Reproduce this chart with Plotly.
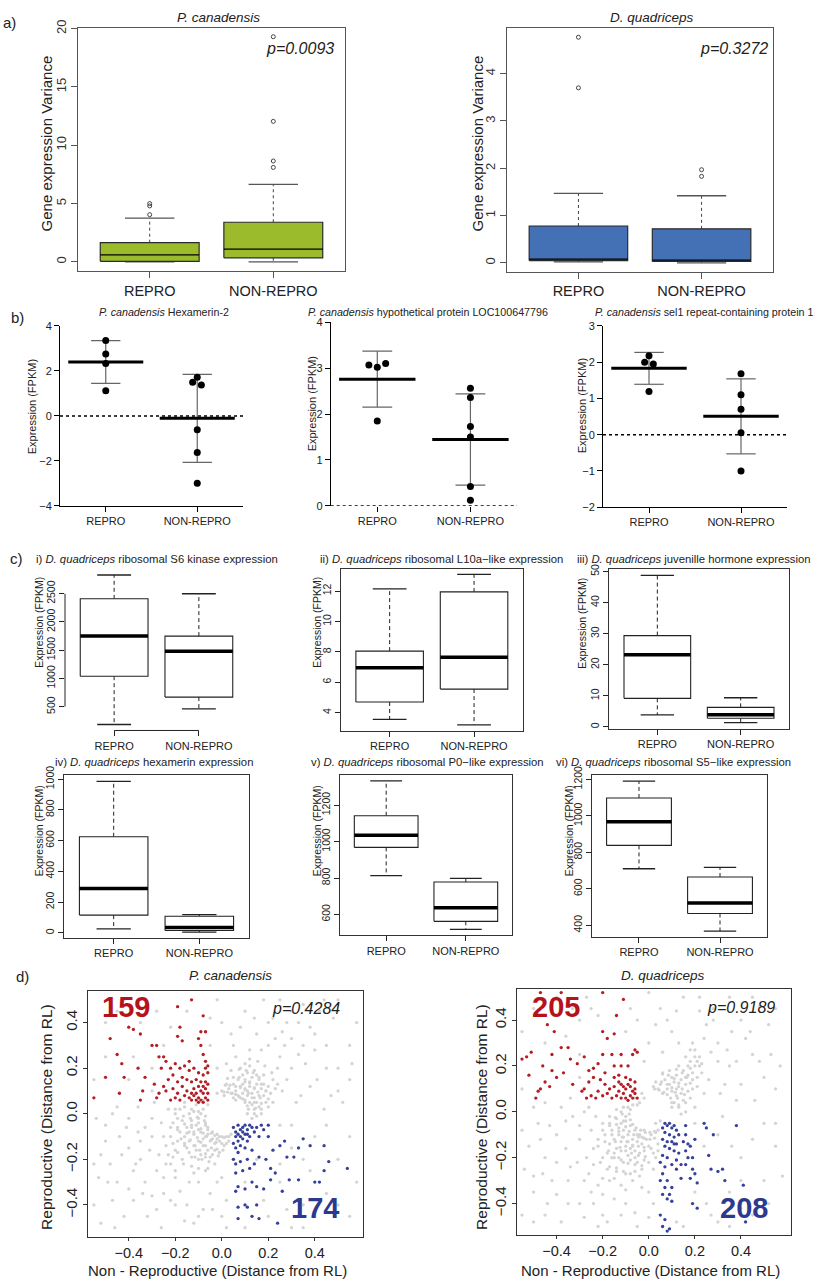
import plotly.graph_objects as go

W, H = 828, 1285
FONT = "Liberation Sans, Arial, sans-serif"

GROUPS = ["REPRO", "NON-REPRO"]

# ---------------- panel a : variance boxplots (lo whisker, Q1, median, Q3, hi whisker)
A_TITLES = ["<i>P. canadensis</i>", "<i>D. quadriceps</i>"]
A_PVALS = ["<i>p=0.0093</i>", "<i>p=0.3272</i>"]
A_PC_STATS = [[0.0, 0.05, 0.6, 1.65, 3.75], [0.0, 0.35, 1.1, 3.4, 6.65]]
A_PC_OUT = [[4.05, 4.8, 5.0], [8.1, 8.65, 12.05, 19.3]]
A_DQ_STATS = [[0.02, 0.05, 0.08, 0.78, 1.47], [0.0, 0.03, 0.06, 0.72, 1.42]]
A_DQ_OUT = [[3.7, 4.77], [1.83, 1.97]]
A_PC_TICKS = [0, 5, 10, 15, 20]
A_DQ_TICKS = [0, 1, 2, 3, 4]

# ---------------- panel b : dot plots with mean +/- SD
B_TITLES = ["<i>P. canadensis</i> Hexamerin-2",
            "<i>P. canadensis</i> hypothetical protein LOC100647796",
            "<i>P. canadensis</i> sel1 repeat-containing protein 1"]
B_REPRO_PTS = [[3.35, 2.75, 2.33, 1.12], [3.07, 3.02, 3.1, 1.85], [2.18, 2.0, 1.95, 1.19]]
B_REPRO_JIT = [[0, 0, 0, 0], [-0.09, 0, 0.09, 0], [0, -0.047, 0.047, 0]]
B_NON_PTS = [[1.72, 1.5, 1.37, -0.62, -1.63, -3.0], [2.56, 2.36, 1.73, 1.5, 0.42, 0.12],
             [1.68, 1.1, 0.7, 0.05, -1.0]]
B_NON_JIT = [[0, -0.05, 0.045, 0, 0, 0], [0, 0, 0, 0, 0, 0], [0, 0, 0, 0, 0]]
B_MEAN = [[2.4, -0.11], [2.76, 1.445], [1.83, 0.505]]
B_SD = [[0.95, 1.96], [0.61, 0.995], [0.44, 1.035]]
B_YRANGE = [[-4, 4], [0, 4], [-2, 3]]
B_TICKS = [[-4, -2, 0, 2, 4], [0, 1, 2, 3, 4], [-2, -1, 0, 1, 2, 3]]

# ---------------- panel c : expression boxplots
C_TITLES = ["i) <i>D. quadriceps</i> ribosomal S6 kinase expression",
            "ii) <i>D. quadriceps</i> ribosomal L10a\u2212like expression",
            "iii) <i>D. quadriceps</i> juvenille hormone expression",
            "iv) <i>D. quadriceps</i> hexamerin expression",
            "v) <i>D. quadriceps</i> ribosomal P0\u2212like expression",
            "vi) <i>D. quadriceps</i> ribosomal S5\u2212like expression"]
C_STATS = [
    [[185, 1040, 1750, 2410, 2832], [460, 670, 1480, 1750, 2500]],
    [[3.55, 4.7, 6.95, 8.05, 12.15], [3.2, 5.55, 7.65, 11.95, 13.1]],
    [[3.9, 9.2, 23.2, 29.4, 48.8], [1.4, 2.8, 3.9, 6.3, 9.4]],
    [[25, 115, 288, 625, 985], [5, 15, 35, 108, 118]],
    [[813, 968, 1035, 1142, 1333], [518, 562, 637, 778, 798]],
    [[710, 838, 968, 1098, 1190], [368, 465, 523, 665, 718]],
]
C_TICKS = [[500, 1000, 1500, 2000, 2500], [4, 6, 8, 10, 12], [0, 10, 20, 30, 40, 50],
           [0, 200, 400, 600, 800, 1000], [600, 800, 1000, 1200], [400, 600, 800, 1000, 1200]]
C_YRANGE = [[79, 2938], [2.78, 13.43], [-0.5, 50.7], [-34, 1027], [485, 1366], [336, 1224]]

# ---------------- panel d : distance scatter
D_TITLES = ["<i>P. canadensis</i>", "<i>D. quadriceps</i>"]
D_PVALS = ["<i>p=0.4284</i>", "<i>p=0.9189</i>"]
D_COUNTS = [["159", "174"], ["205", "208"]]
D_TICKS = [-0.4, -0.2, 0.0, 0.2, 0.4]

PC_GREY = [
    (0.05, 0.07), (0.07, 0.08), (0.09, 0.09), (0.11, 0.1), (0.08, 0.12), (0.1, 0.14), (0.12, 0.12), (0.13, 0.09),
    (0.14, 0.07), (0.15, 0.05), (0.12, 0.05), (0.16, 0.03), (0.14, 0.02), (0.06, 0.1), (0.04, 0.09), (0.03, 0.11),
    (0.07, 0.15), (0.09, 0.17), (0.11, 0.18), (0.13, 0.16), (0.15, 0.13), (0.17, 0.11), (0.18, 0.08), (0.19, 0.05),
    (0.16, 0.15), (0.2, 0.12), (0.12, 0.21), (0.08, 0.2), (0.14, 0.19), (0.18, 0.17), (0.22, 0.15), (0.21, 0.09),
    (0.17, 0.0), (0.15, -0.01), (0.13, -0.02), (0.01, 0.08), (0.0, 0.1), (-0.02, 0.09), (0.02, 0.13), (0.05, 0.13),
    (0.1, 0.06), (0.13, 0.04), (0.06, 0.06), (0.08, 0.07), (0.1, 0.11), (0.12, 0.14), (0.14, 0.11), (0.16, 0.08),
    (0.11, 0.08), (0.09, 0.13), (0.17, 0.13), (0.19, 0.1), (0.15, 0.17), (0.1, 0.22), (0.24, 0.2), (0.23, 0.11),
    (0.11, 0.0), (0.115, 0.02), (0.11, 0.035), (0.1, 0.05), (0.09, 0.065), (0.075, 0.075), (0.06, 0.085),
    (0.045, 0.09), (0.025, 0.095), (0.01, 0.095), (0.14, 0.0), (0.145, 0.025), (0.14, 0.05), (0.13, 0.07),
    (0.115, 0.09), (0.1, 0.105), (0.08, 0.115), (0.06, 0.12), (0.035, 0.125), (0.015, 0.125), (0.17, 0.02),
    (0.17, 0.045), (0.165, 0.07), (0.155, 0.095), (0.14, 0.115), (0.12, 0.135), (0.1, 0.15), (0.075, 0.16),
    (0.05, 0.16), (0.025, 0.155), (0.2, 0.03), (0.2, 0.065), (0.19, 0.1), (0.18, 0.13), (0.16, 0.16),
    (0.135, 0.18), (0.105, 0.19), (0.075, 0.195), (0.04, 0.19), (0.22, 0.05), (0.215, 0.18), (0.185, 0.21),
    (0.24, 0.13), (0.155, 0.23), (0.12, 0.24),
    (-0.06, 0.04), (-0.08, 0.02), (-0.09, 0.0), (-0.1, -0.02), (-0.07, -0.04), (-0.06, -0.06), (-0.04, -0.08),
    (-0.02, -0.09), (0.0, -0.1), (0.02, -0.1), (0.04, -0.09), (-0.11, -0.05), (-0.13, -0.03), (-0.12, 0.01),
    (-0.14, 0.0), (-0.15, -0.06), (-0.09, -0.08), (-0.07, -0.1), (-0.05, -0.12), (-0.03, -0.13), (-0.01, -0.12),
    (-0.12, -0.09), (-0.1, -0.12), (-0.08, -0.14), (-0.06, -0.16), (-0.14, -0.12), (-0.16, -0.1), (-0.18, -0.08),
    (-0.17, -0.03), (-0.19, -0.12), (-0.11, -0.16), (-0.09, -0.18), (-0.15, -0.15), (-0.13, -0.19), (-0.2, -0.16),
    (-0.17, -0.2), (-0.22, -0.1), (-0.21, -0.04), (-0.24, -0.14), (-0.05, -0.19), (-0.03, -0.16), (0.01, -0.14),
    (-0.18, 0.02), (-0.2, 0.0), (-0.11, 0.04), (-0.16, 0.05), (-0.23, 0.02), (-0.08, 0.06), (-0.1, -0.07),
    (-0.08, -0.11), (-0.12, -0.14), (-0.04, -0.11), (-0.02, -0.11), (-0.07, -0.19), (-0.14, -0.08), (-0.16, -0.13),
    (-0.1, -0.2), (-0.13, -0.06), (-0.06, -0.09), (0.03, -0.12), (-0.01, -0.17), (-0.19, -0.06), (-0.21, -0.19),
    (-0.07, -0.01), (-0.075, -0.03), (-0.07, -0.05), (-0.06, -0.07), (-0.045, -0.085), (-0.03, -0.095),
    (-0.01, -0.1), (0.01, -0.105), (0.03, -0.1), (-0.1, 0.01), (-0.105, -0.015), (-0.1, -0.04), (-0.09, -0.065),
    (-0.08, -0.085), (-0.065, -0.1), (-0.045, -0.115), (-0.025, -0.125), (0.0, -0.13), (0.02, -0.13),
    (-0.13, 0.02), (-0.135, -0.02), (-0.13, -0.05), (-0.12, -0.08), (-0.105, -0.105), (-0.09, -0.125),
    (-0.07, -0.14), (-0.045, -0.15), (-0.02, -0.155), (0.005, -0.16), (-0.16, 0.03), (-0.165, -0.01),
    (-0.16, -0.045), (-0.15, -0.085), (-0.135, -0.115), (-0.115, -0.14), (-0.095, -0.16), (-0.07, -0.175),
    (-0.04, -0.18), (-0.015, -0.185), (-0.19, -0.02), (-0.19, -0.07), (-0.175, -0.11), (-0.16, -0.14),
    (-0.14, -0.17), (-0.115, -0.19), (-0.085, -0.2), (-0.055, -0.21), (-0.03, -0.22), (-0.22, -0.06),
    (-0.21, -0.13), (-0.19, -0.17), (-0.165, -0.22), (-0.13, -0.23), (-0.1, -0.24), (-0.06, -0.24),
    (-0.25, -0.1), (-0.23, -0.18), (-0.2, -0.25),
    (-0.3, -0.1), (-0.35, -0.2), (-0.28, -0.25), (-0.4, -0.15), (-0.45, -0.3), (-0.5, -0.05), (-0.38, -0.38),
    (-0.25, -0.35), (-0.2, -0.28), (-0.32, -0.45), (-0.15, -0.4), (-0.1, -0.3), (-0.05, -0.35), (-0.12, -0.48),
    (-0.42, -0.45), (-0.48, -0.22), (-0.55, -0.4), (-0.3, -0.02), (-0.27, -0.18), (-0.22, -0.22), (-0.36, -0.08),
    (-0.44, -0.1), (-0.52, -0.18), (-0.26, -0.5), (-0.08, -0.42), (0.0, -0.28), (0.02, -0.5), (-0.18, -0.34),
    (-0.33, -0.3), (-0.4, -0.02), (-0.29, 0.05), (-0.45, 0.03), (-0.25, -0.28), (-0.35, -0.12), (-0.47, -0.38),
    (-0.3, -0.36), (-0.12, -0.26), (-0.2, -0.4), (-0.53, -0.28), (-0.38, -0.25),
    (-0.52, -0.48), (-0.46, -0.5), (-0.4, -0.33), (-0.34, -0.35), (-0.28, -0.42), (-0.22, -0.38), (-0.16, -0.47),
    (-0.1, -0.45), (-0.04, -0.42), (0.0, -0.45), (-0.02, -0.3), (-0.07, -0.25), (-0.14, -0.3), (-0.24, -0.22),
    (-0.31, -0.16), (-0.37, -0.22), (-0.43, -0.18), (-0.5, -0.12), (-0.55, -0.22), (-0.49, -0.3), (-0.41, -0.06),
    (-0.33, -0.06), (-0.26, -0.04), (-0.54, -0.02), (-0.47, 0.0), (-0.36, 0.03),
    (0.25, 0.25), (0.3, 0.2), (0.35, 0.3), (0.4, 0.35), (0.2, 0.3), (0.28, 0.4), (0.45, 0.2), (0.5, 0.1),
    (0.38, 0.12), (0.22, 0.42), (0.15, 0.35), (0.1, 0.45), (0.05, 0.3), (0.32, 0.05), (0.42, 0.45), (0.55, 0.3),
    (0.26, 0.1), (0.48, 0.42), (0.12, 0.28), (0.35, 0.48), (0.0, 0.4), (0.02, 0.22), (0.18, 0.5), (0.3, 0.33),
    (0.52, 0.05), (0.44, 0.02), (0.27, 0.3), (0.36, 0.22), (0.4, 0.28),
    (0.3, 0.45), (0.38, 0.38), (0.45, 0.3), (0.5, 0.2), (0.55, 0.15), (0.33, 0.26), (0.26, 0.36), (0.2, 0.4),
    (0.14, 0.42), (0.08, 0.38), (0.04, 0.35), (0.06, 0.25), (0.17, 0.28), (0.23, 0.33), (0.28, 0.15),
    (0.34, 0.08), (0.41, 0.15), (0.47, 0.08), (0.56, 0.22), (0.58, 0.4), (0.5, 0.5), (0.44, 0.5), (0.25, 0.5),
    (0.33, 0.4),
    (-0.3, 0.1), (-0.45, 0.45), (-0.25, 0.3), (-0.15, 0.45), (-0.05, 0.3), (-0.35, 0.4), (-0.5, 0.25),
    (-0.02, 0.5), (-0.2, 0.02), (-0.4, 0.15), (-0.3, 0.2), (-0.38, 0.25), (-0.5, 0.4), (-0.42, 0.5),
    (-0.28, 0.45), (-0.22, 0.38), (-0.05, 0.42), (-0.02, 0.2), (-0.32, 0.48), (-0.55, 0.15),
    (0.25, -0.05), (0.3, -0.15), (0.4, -0.1), (0.5, -0.2), (0.35, -0.4), (0.2, -0.45), (0.45, -0.35), (0.1, -0.3),
    (0.55, -0.45), (0.3, -0.5), (0.15, -0.2), (0.05, -0.2), (0.25, -0.3), (0.3, -0.05), (0.35, -0.2),
    (0.45, -0.05), (0.55, -0.1), (0.5, -0.4), (0.4, -0.45), (0.35, -0.5), (0.28, -0.42), (0.18, -0.38),
    (0.1, -0.5), (0.02, -0.38), (0.25, -0.22), (0.38, -0.25), (0.58, -0.3),
]
PC_RED = [
    (-0.06, 0.06), (-0.07, 0.07), (-0.08, 0.05), (-0.09, 0.06), (-0.1, 0.07), (-0.11, 0.06), (-0.12, 0.08),
    (-0.06, 0.09), (-0.07, 0.11), (-0.08, 0.09), (-0.09, 0.1), (-0.1, 0.12), (-0.12, 0.11), (-0.13, 0.09),
    (-0.14, 0.07), (-0.15, 0.1), (-0.16, 0.08), (-0.17, 0.12), (-0.18, 0.06), (-0.19, 0.09), (-0.2, 0.07),
    (-0.21, 0.11), (-0.22, 0.06), (-0.24, 0.1), (-0.13, 0.14), (-0.11, 0.15), (-0.09, 0.14), (-0.07, 0.14),
    (-0.06, 0.13), (-0.15, 0.15), (-0.17, 0.16), (-0.19, 0.14), (-0.21, 0.17), (-0.23, 0.15), (-0.25, 0.12),
    (-0.27, 0.09), (-0.28, 0.07), (-0.08, 0.17), (-0.06, 0.18), (-0.07, 0.2), (-0.1, 0.18), (-0.12, 0.2),
    (-0.14, 0.19), (-0.16, 0.21), (-0.18, 0.2), (-0.2, 0.22), (-0.22, 0.2), (-0.24, 0.23), (-0.26, 0.2),
    (-0.25, 0.25), (-0.27, 0.25), (-0.06, 0.21), (-0.07, 0.23), (-0.08, 0.26), (-0.14, 0.23),
    (-0.3, 0.3), (-0.35, 0.35), (-0.38, 0.37), (-0.4, 0.38), (-0.48, 0.33), (-0.5, 0.16), (-0.45, 0.26),
    (-0.43, 0.22), (-0.42, 0.16), (-0.44, 0.09), (-0.36, 0.2), (-0.34, 0.1), (-0.35, 0.06), (-0.33, 0.16),
    (-0.29, 0.13), (-0.19, 0.34), (-0.18, 0.38), (-0.17, 0.32), (-0.09, 0.3), (-0.1, 0.33), (-0.07, 0.36),
    (-0.09, 0.36), (-0.08, 0.43), (-0.19, 0.47), (-0.13, 0.5), (-0.55, 0.07), (-0.28, 0.3), (-0.11, 0.09),
    (-0.13, 0.06), (-0.1, 0.05), (-0.08, 0.12),
]
PC_BLUE = [
    (0.05, -0.06), (0.06, -0.08), (0.07, -0.05), (0.08, -0.07), (0.09, -0.06), (0.1, -0.05), (0.11, -0.07),
    (0.12, -0.05), (0.13, -0.06), (0.06, -0.1), (0.07, -0.12), (0.08, -0.1), (0.09, -0.11), (0.1, -0.09),
    (0.11, -0.12), (0.12, -0.1), (0.05, -0.13), (0.06, -0.15), (0.07, -0.17), (0.08, -0.14), (0.1, -0.15),
    (0.14, -0.08), (0.15, -0.06), (0.17, -0.05), (0.18, -0.07), (0.2, -0.05), (0.2, -0.1), (0.16, -0.1),
    (0.05, -0.2), (0.06, -0.22), (0.08, -0.21), (0.11, -0.2), (0.12, -0.24), (0.06, -0.26), (0.09, -0.25),
    (0.14, -0.22), (0.16, -0.19), (0.19, -0.2), (0.21, -0.24), (0.23, -0.26), (0.22, -0.16), (0.25, -0.14),
    (0.28, -0.19), (0.31, -0.19), (0.33, -0.15), (0.35, -0.11), (0.38, -0.14), (0.4, -0.3), (0.42, -0.3),
    (0.44, -0.14), (0.44, -0.25), (0.46, -0.21), (0.29, -0.29), (0.33, -0.29), (0.26, -0.34), (0.21, -0.29),
    (0.13, -0.3), (0.15, -0.32), (0.18, -0.33), (0.06, -0.34), (0.07, -0.32), (0.1, -0.33), (0.07, -0.41),
    (0.1, -0.4), (0.11, -0.41), (0.13, -0.45), (0.16, -0.46), (0.15, -0.4), (0.07, -0.46), (0.24, -0.48),
    (0.54, -0.24), (0.27, -0.12), (0.13, -0.16), (0.09, -0.08), (0.07, -0.09), (0.11, -0.09),
]
DQ_GREY = [
    (-0.02, -0.08), (-0.04, -0.1), (-0.06, -0.08), (-0.08, -0.06), (-0.1, -0.04), (-0.1, -0.02), (-0.12, -0.05),
    (-0.11, -0.08), (-0.09, -0.1), (-0.07, -0.12), (-0.05, -0.13), (-0.03, -0.14), (-0.01, -0.12), (0.01, -0.1),
    (0.03, -0.09), (-0.13, -0.1), (-0.12, -0.13), (-0.1, -0.15), (-0.08, -0.16), (-0.06, -0.17), (-0.04, -0.18),
    (-0.02, -0.17), (0.0, -0.15), (-0.14, -0.16), (-0.15, -0.12), (-0.16, -0.08), (-0.14, -0.03), (-0.12, 0.0),
    (-0.09, 0.02), (-0.07, 0.03), (-0.17, -0.14), (-0.18, -0.18), (-0.16, -0.2), (-0.13, -0.2), (-0.11, -0.22),
    (-0.08, -0.21), (-0.05, -0.22), (-0.02, -0.21), (0.02, -0.18), (0.04, -0.14), (-0.19, -0.1), (-0.2, -0.05),
    (-0.22, -0.12), (-0.21, -0.22), (-0.18, -0.25), (-0.14, -0.26), (-0.1, -0.27), (-0.06, -0.26),
    (-0.03, -0.25), (0.0, -0.22), (0.03, -0.05), (0.05, -0.04), (-0.04, 0.04), (-0.02, 0.06), (-0.24, -0.16),
    (-0.25, -0.08), (-0.23, -0.02), (-0.27, -0.2), (-0.26, -0.27), (-0.3, -0.12), (-0.07, -0.3), (-0.12, -0.32),
    (-0.17, -0.3), (-0.09, -0.13), (-0.07, -0.15), (-0.11, -0.11), (-0.13, -0.07), (-0.05, -0.1),
    (-0.03, -0.11), (-0.15, -0.18), (-0.09, -0.19), (-0.12, -0.17), (-0.06, -0.2), (-0.17, -0.05),
    (-0.08, 0.01), (-0.085, -0.01), (-0.08, -0.035), (-0.07, -0.055), (-0.055, -0.07), (-0.035, -0.08),
    (-0.015, -0.09), (0.005, -0.09), (0.025, -0.085), (0.04, -0.08), (-0.11, 0.02), (-0.115, -0.01),
    (-0.11, -0.04), (-0.1, -0.065), (-0.085, -0.085), (-0.065, -0.1), (-0.045, -0.11), (-0.02, -0.115),
    (0.005, -0.12), (0.025, -0.115), (-0.14, 0.01), (-0.145, -0.025), (-0.14, -0.055), (-0.13, -0.085),
    (-0.115, -0.11), (-0.095, -0.13), (-0.07, -0.145), (-0.045, -0.15), (-0.02, -0.155), (0.01, -0.16),
    (-0.17, -0.02), (-0.17, -0.06), (-0.16, -0.1), (-0.145, -0.13), (-0.125, -0.155), (-0.1, -0.17),
    (-0.075, -0.18), (-0.045, -0.19), (-0.015, -0.195), (-0.2, -0.08), (-0.19, -0.13), (-0.175, -0.17),
    (-0.15, -0.2), (-0.12, -0.21), (-0.09, -0.225), (-0.06, -0.23), (-0.03, -0.235), (-0.22, -0.15),
    (-0.2, -0.2), (-0.17, -0.24), (-0.14, -0.245), (-0.11, -0.26), (-0.08, -0.27), (-0.04, -0.28),
    (-0.24, -0.23), (-0.2, -0.29), (-0.15, -0.29), (0.02, -0.25), (0.03, -0.2), (0.04, -0.17), (-0.06, 0.06),
    (-0.05, 0.03), (-0.03, 0.08),
    (0.06, 0.08), (0.08, 0.1), (0.1, 0.09), (0.12, 0.07), (0.11, 0.04), (0.09, 0.12), (0.11, 0.13),
    (0.13, 0.11), (0.14, 0.08), (0.15, 0.05), (0.13, 0.02), (0.1, 0.15), (0.12, 0.16), (0.14, 0.14),
    (0.16, 0.12), (0.17, 0.09), (0.18, 0.06), (0.15, 0.18), (0.17, 0.16), (0.19, 0.14), (0.2, 0.2),
    (0.18, 0.22), (0.22, 0.24), (0.2, 0.27), (0.19, 0.3), (0.16, 0.24), (0.21, 0.11), (0.23, 0.17),
    (0.07, 0.14), (0.05, 0.12), (0.04, 0.1), (0.02, 0.11), (0.09, 0.18), (0.06, 0.17), (0.13, 0.2),
    (0.24, 0.08), (0.2, 0.02), (0.16, 0.0), (0.14, -0.01), (0.12, 0.1), (0.16, 0.15), (0.18, 0.19),
    (0.1, 0.02), (0.1, 0.04), (0.095, 0.06), (0.08, 0.075), (0.065, 0.085), (0.045, 0.095), (0.025, 0.1),
    (0.13, 0.03), (0.125, 0.06), (0.115, 0.085), (0.1, 0.105), (0.08, 0.12), (0.055, 0.13), (0.03, 0.13),
    (0.16, 0.04), (0.155, 0.075), (0.145, 0.1), (0.13, 0.125), (0.11, 0.145), (0.085, 0.16), (0.06, 0.165),
    (0.19, 0.1), (0.18, 0.125), (0.165, 0.15), (0.145, 0.17), (0.12, 0.185), (0.19, 0.17), (0.21, 0.15),
    (0.21, 0.22), (0.23, 0.21), (0.2, 0.24), (0.18, 0.27), (0.17, 0.2), (0.22, 0.2),
    (0.3, 0.3), (0.35, 0.2), (0.4, 0.4), (0.45, 0.25), (0.5, 0.15), (0.55, 0.1), (0.28, 0.45), (0.1, 0.35),
    (0.05, 0.45), (0.38, 0.05), (0.48, 0.46), (0.25, 0.38), (0.33, 0.12), (0.42, 0.32), (0.52, 0.38),
    (0.15, 0.5), (0.0, 0.3), (0.3, 0.22),
    (0.28, 0.4), (0.36, 0.35), (0.44, 0.35), (0.48, 0.22), (0.53, 0.25), (0.34, 0.27), (0.24, 0.32),
    (0.22, 0.44), (0.12, 0.44), (0.08, 0.4), (0.03, 0.38), (0.06, 0.26), (0.13, 0.3), (0.27, 0.26),
    (0.26, 0.14), (0.31, 0.08), (0.4, 0.12), (0.46, 0.05), (0.57, 0.2), (0.55, 0.45), (0.45, 0.5),
    (0.35, 0.5), (0.22, 0.5), (0.38, 0.22),
    (-0.35, -0.3), (-0.4, -0.1), (-0.45, -0.2), (-0.5, -0.35), (-0.55, -0.45), (-0.3, -0.4), (-0.2, -0.45),
    (-0.1, -0.4), (-0.05, -0.5), (-0.38, -0.48), (-0.48, -0.05), (-0.52, -0.15), (-0.33, -0.02),
    (-0.42, -0.3), (-0.25, -0.35), (-0.15, -0.38), (0.0, -0.35), (-0.28, 0.0), (-0.38, 0.02), (-0.5, 0.02),
    (-0.44, -0.4), (-0.22, -0.5), (-0.36, -0.16), (-0.46, -0.27), (-0.31, -0.22), (-0.2, -0.36),
    (-0.5, -0.48), (-0.45, -0.45), (-0.4, -0.36), (-0.35, -0.4), (-0.28, -0.46), (-0.24, -0.4),
    (-0.18, -0.48), (-0.12, -0.45), (-0.06, -0.44), (0.0, -0.46), (-0.03, -0.33), (-0.1, -0.34),
    (-0.22, -0.32), (-0.28, -0.3), (-0.34, -0.24), (-0.4, -0.22), (-0.47, -0.12), (-0.54, -0.25),
    (-0.5, -0.28), (-0.43, -0.06), (-0.36, -0.04), (-0.3, -0.06), (-0.26, 0.02), (-0.55, -0.08),
    (-0.45, 0.04), (-0.34, 0.06),
    (-0.3, 0.4), (-0.4, 0.5), (-0.25, 0.45), (-0.05, 0.4), (-0.1, 0.35), (-0.55, 0.35), (-0.3, 0.15),
    (0.0, 0.52), (-0.3, 0.25), (-0.36, 0.33), (-0.5, 0.45), (-0.45, 0.3), (-0.27, 0.5), (-0.22, 0.42),
    (-0.08, 0.45), (-0.02, 0.22), (-0.33, 0.45), (-0.55, 0.1),
    (0.3, -0.1), (0.4, -0.2), (0.5, -0.3), (0.45, -0.45), (0.25, -0.4), (0.3, -0.48), (0.5, -0.05),
    (0.35, -0.35), (0.2, -0.05), (0.55, -0.15), (0.15, -0.5), (0.32, -0.02), (0.36, -0.15), (0.45, -0.12),
    (0.55, -0.05), (0.52, -0.4), (0.4, -0.42), (0.35, -0.5), (0.27, -0.45), (0.2, -0.35), (0.12, -0.48),
    (0.02, -0.4), (0.24, -0.15), (0.4, -0.3), (0.58, -0.28),
]
DQ_RED = [
    (-0.05, 0.06), (-0.06, 0.08), (-0.07, 0.06), (-0.08, 0.07), (-0.09, 0.05), (-0.1, 0.06), (-0.11, 0.08),
    (-0.12, 0.06), (-0.13, 0.09), (-0.14, 0.07), (-0.06, 0.1), (-0.08, 0.11), (-0.1, 0.1), (-0.12, 0.12),
    (-0.15, 0.11), (-0.16, 0.06), (-0.17, 0.1), (-0.18, 0.08), (-0.2, 0.07), (-0.19, 0.12), (-0.22, 0.09),
    (-0.23, 0.06), (-0.25, 0.07), (-0.27, 0.06), (-0.28, 0.1), (-0.26, 0.13), (-0.24, 0.15), (-0.21, 0.14),
    (-0.19, 0.17), (-0.15, 0.15), (-0.13, 0.16), (-0.1, 0.15), (-0.08, 0.14), (-0.06, 0.13), (-0.09, 0.2),
    (-0.12, 0.2), (-0.07, 0.25), (-0.06, 0.27), (-0.16, 0.25), (-0.15, 0.2), (-0.2, 0.25), (-0.22, 0.21),
    (-0.24, 0.19), (-0.26, 0.18), (-0.29, 0.09), (-0.33, 0.12), (-0.37, 0.17), (-0.4, 0.15), (-0.42, 0.18),
    (-0.43, 0.11), (-0.45, 0.13), (-0.47, 0.1), (-0.48, 0.09), (-0.49, 0.06), (-0.52, 0.16), (-0.53, 0.24),
    (-0.55, 0.23), (-0.51, 0.26), (-0.46, 0.2), (-0.42, 0.25), (-0.41, 0.35), (-0.38, 0.28), (-0.35, 0.28),
    (-0.44, 0.38), (-0.47, 0.52), (-0.38, 0.52), (-0.2, 0.52), (-0.11, 0.49), (-0.14, 0.42), (-0.2, 0.35),
    (-0.18, 0.32), (-0.15, 0.34), (-0.12, 0.25), (-0.05, 0.26), (-0.31, 0.21), (-0.34, 0.23), (-0.28, 0.24),
    (-0.13, 0.13), (-0.11, 0.11), (-0.07, 0.09), (-0.09, 0.12),
]
DQ_BLUE = [
    (0.06, -0.07), (0.07, -0.05), (0.08, -0.06), (0.09, -0.05), (0.1, -0.07), (0.11, -0.06), (0.12, -0.08),
    (0.07, -0.09), (0.09, -0.1), (0.11, -0.11), (0.06, -0.12), (0.08, -0.13), (0.1, -0.13), (0.12, -0.14),
    (0.07, -0.15), (0.09, -0.16), (0.11, -0.17), (0.13, -0.18), (0.06, -0.19), (0.08, -0.2), (0.12, -0.21),
    (0.05, -0.22), (0.07, -0.24), (0.1, -0.23), (0.14, -0.23), (0.16, -0.06), (0.16, -0.1), (0.17, -0.14),
    (0.15, -0.13), (0.16, -0.17), (0.18, -0.15), (0.19, -0.2), (0.17, -0.2), (0.24, -0.05), (0.25, -0.07),
    (0.28, -0.1), (0.38, -0.06), (0.2, -0.12), (0.19, -0.25), (0.16, -0.23), (0.14, -0.29), (0.12, -0.25),
    (0.06, -0.27), (0.05, -0.3), (0.08, -0.3), (0.1, -0.33), (0.07, -0.33), (0.09, -0.36), (0.06, -0.36),
    (0.08, -0.38), (0.1, -0.39), (0.2, -0.27), (0.18, -0.29), (0.21, -0.31), (0.26, -0.19), (0.27, -0.25),
    (0.3, -0.26), (0.32, -0.25), (0.33, -0.3), (0.41, -0.32), (0.42, -0.48), (0.19, -0.4), (0.21, -0.42),
    (0.05, -0.45), (0.07, -0.47), (0.06, -0.5), (0.08, -0.52), (0.09, -0.51), (0.11, -0.14), (0.13, -0.1),
]

# ======================================================================
fig = go.Figure()
layout = dict(width=W, height=H, margin=dict(l=0, r=0, t=0, b=0), paper_bgcolor="white",
              plot_bgcolor="white", showlegend=False, font=dict(family=FONT, color="#222"),
              hovermode=False)
annotations = []
shapes = []
counter = [0]


def px_x(px):
    return px / W


def px_y(py):
    return 1 - py / H


def new_axes(box, xr, yr, xkw=None, ykw=None):
    counter[0] += 1
    n = counter[0]
    x0, x1, y0, y1 = box
    sfx = "" if n == 1 else str(n)
    xa = dict(domain=[px_x(x0), px_x(x1)], range=xr, anchor="y" + sfx, showgrid=False, zeroline=False)
    ya = dict(domain=[px_y(y1), px_y(y0)], range=yr, anchor="x" + sfx, showgrid=False, zeroline=False)
    xa.update(xkw or {})
    ya.update(ykw or {})
    layout["xaxis" + sfx] = xa
    layout["yaxis" + sfx] = ya
    return "x" + sfx, "y" + sfx


def ann(text, px, py, size, color="#222", angle=0, xanchor="center"):
    annotations.append(dict(text=text, x=px_x(px), y=px_y(py), xref="paper", yref="paper", showarrow=False,
                            font=dict(size=size, color=color, family=FONT), textangle=angle,
                            xanchor=xanchor, yanchor="middle"))


def rbox(xa, ya, pos, st, fill, edge, med_w, whisk_dash, whisk_col, cap_col, edge_w=1.0, bw=0.8):
    lo, q1, med, q3, hi = st
    hw, cw = bw / 2, bw / 4
    common = dict(xaxis=xa, yaxis=ya, mode="lines", hoverinfo="skip", showlegend=False)
    fig.add_trace(go.Scatter(x=[pos, pos, None, pos, pos], y=[q3, hi, None, q1, lo],
                             line=dict(color=whisk_col, width=1, dash=whisk_dash), **common))
    fig.add_trace(go.Scatter(x=[pos - cw, pos + cw, None, pos - cw, pos + cw], y=[hi, hi, None, lo, lo],
                             line=dict(color=cap_col, width=1.3), **common))
    fig.add_trace(go.Scatter(x=[pos - hw, pos + hw, pos + hw, pos - hw, pos - hw], y=[q1, q1, q3, q3, q1],
                             fill="toself", fillcolor=fill, line=dict(color=edge, width=edge_w), **common))
    fig.add_trace(go.Scatter(x=[pos - hw, pos + hw], y=[med, med], line=dict(color="black", width=med_w),
                             **common))


# ---------------- panel a
a_boxes = [(78, 345, 19, 265), (507, 773, 19, 266)]
a_yr = [[-0.77, 20.07], [-0.19, 4.97]]
a_stats = [A_PC_STATS, A_DQ_STATS]
a_out = [A_PC_OUT, A_DQ_OUT]
a_ticks = [A_PC_TICKS, A_DQ_TICKS]
a_fill = ["#9cbb2c", "#4470b5"]
a_titlex = [218, 652]
a_px = [300, 734]
a_ylabx = [46, 477]
for k in range(2):
    xa, ya = new_axes(a_boxes[k], [0.42, 2.58], a_yr[k],
                      dict(tickvals=[1, 2], ticktext=GROUPS, ticks="outside", ticklen=6, tickcolor="#555",
                           showline=True, mirror=True, linecolor="#555", linewidth=1.2,
                           tickfont=dict(size=14.5, color="#222")),
                      dict(tickvals=a_ticks[k], ticks="outside", ticklen=6, tickcolor="#555", tickangle=-90,
                           showline=True, mirror=True, linecolor="#555", linewidth=1.2,
                           tickfont=dict(size=13, color="#333")))
    for g in range(2):
        rbox(xa, ya, g + 1, a_stats[k][g], a_fill[k], "#2a2a2a", 1.3, "dot", "#444", "#555", 1.2)
        fig.add_trace(go.Scatter(x=[g + 1] * len(a_out[k][g]), y=a_out[k][g], xaxis=xa, yaxis=ya, mode="markers",
                                 marker=dict(symbol="circle-open", size=4, color="#444", line=dict(width=1)),
                                 hoverinfo="skip"))
    ann(A_TITLES[k], a_titlex[k], 9, 13.5)
    ann(A_PVALS[k], a_px[k], 40, 16)
    ann("Gene expression Variance", a_ylabx[k], 136, 15, angle=-90)
ann("a)", 9, 14, 15)

# ---------------- panel b
b_boxes = [(60, 243, 320.7, 502.7), (330.7, 517, 317, 502.7), (603, 787, 320.7, 504)]
b_titlex = [163.5, 428, 704]
b_ylab = [(32, 403), (312, 400), (582, 402)]
for k in range(3):
    xa, ya = new_axes(b_boxes[k], [-0.5, 1.5], B_YRANGE[k],
                      dict(tickvals=[0, 1], ticktext=GROUPS, ticks="outside", ticklen=5, tickcolor="black",
                           showline=(k != 1), linecolor="black", linewidth=1,
                           tickfont=dict(size=11, color="#222")),
                      dict(tickvals=B_TICKS[k], ticks="outside", ticklen=5, tickcolor="black",
                           showline=True, linecolor="black", linewidth=1,
                           tickfont=dict(size=11, color="#222")))
    shapes.append(dict(type="line", xref=xa + " domain", yref=ya, x0=0, x1=1, y0=0, y1=0,
                       line=dict(color="black", width=1.5, dash="dot")))
    pts = [B_REPRO_PTS[k], B_NON_PTS[k]]
    jit = [B_REPRO_JIT[k], B_NON_JIT[k]]
    for g in range(2):
        m, s = B_MEAN[k][g], B_SD[k][g]
        common = dict(xaxis=xa, yaxis=ya, mode="lines", hoverinfo="skip")
        fig.add_trace(go.Scatter(x=[g, g, None, g - 0.16, g + 0.16, None, g - 0.16, g + 0.16],
                                 y=[m - s, m + s, None, m + s, m + s, None, m - s, m - s],
                                 line=dict(color="#666", width=1.2), **common))
        fig.add_trace(go.Scatter(x=[g - 0.41, g + 0.41], y=[m, m], line=dict(color="black", width=3), **common))
        fig.add_trace(go.Scatter(x=[g + j for j in jit[g]], y=pts[g], xaxis=xa, yaxis=ya, mode="markers",
                                 marker=dict(size=7, color="black"), hoverinfo="skip", cliponaxis=False))
    ann(B_TITLES[k], b_titlex[k], 307, 10.7)
    ann("Expression (FPKM)", b_ylab[k][0], b_ylab[k][1], 11, angle=-90)
ann("b)", 17, 312, 15)

# ---------------- panel c
c_boxes = [(65, 248, 566.6, 730), (340.7, 523, 567, 730.7), (609, 789, 567, 728),
           (64, 249, 775, 940), (340, 512, 775, 937.3), (592, 767, 775, 939)]
c_title = [(156.5, 556), (441.5, 556), (694, 556), (154, 762), (428, 762), (673, 762)]
c_ylab = [(39, 621), (317, 621), (582, 622), (39, 832), (317, 832), (569, 832)]
for k in range(6):
    framed = k != 0
    xa, ya = new_axes(c_boxes[k], [0.42, 2.58], C_YRANGE[k],
                      dict(tickvals=[1, 2], ticktext=GROUPS, ticks="outside", ticklen=5, tickcolor="#222",
                           showline=framed, mirror=framed, linecolor="#333", linewidth=1,
                           tickfont=dict(size=11, color="#222")),
                      dict(tickvals=C_TICKS[k], ticks="outside", ticklen=5, tickcolor="#222", tickangle=-90,
                           showline=framed, mirror=framed, linecolor="#333", linewidth=1,
                           tickfont=dict(size=10.5, color="#222")))
    if not framed:
        shapes.append(dict(type="line", xref=xa + " domain", yref=ya, x0=0, x1=0,
                           y0=C_TICKS[k][0], y1=C_TICKS[k][-1], line=dict(color="#222", width=1)))
        shapes.append(dict(type="line", xref=xa, yref=ya + " domain", x0=1, x1=2, y0=0, y1=0,
                           line=dict(color="#222", width=1)))
    for g in range(2):
        rbox(xa, ya, g + 1, C_STATS[k][g], "white", "#222", 3.5, "4px,3px", "#222", "#222", 1.1)
    ann(C_TITLES[k], c_title[k][0], c_title[k][1], 11.3)
    ann("Expression (FPKM)", c_ylab[k][0], c_ylab[k][1], 10.5, angle=-90)
ann("c)", 16, 556, 15)

# ---------------- panel d
d_boxes = [(88.3, 362.7, 993.3, 1242.3), (516.7, 791, 991.7, 1240)]
d_xr = [[-0.574, 0.606], [-0.573, 0.617]]
d_yr = [[-0.54, 0.54], [-0.535, 0.535]]
d_sets = [(PC_GREY, PC_RED, PC_BLUE), (DQ_GREY, DQ_RED, DQ_BLUE)]
d_title = [230, 663]
d_p = [(306, 1011), (741, 1010)]
d_red = [(126, 1010), (556, 1010)]
d_blue = [(315, 1213), (744, 1213)]
d_ylab = [47, 482]
d_xlab = [217, 650]
for k in range(2):
    xa, ya = new_axes(d_boxes[k], d_xr[k], d_yr[k],
                      dict(tickvals=D_TICKS, tickformat=".1f", ticks="outside", ticklen=3, tickcolor="#333",
                           showline=True, mirror=True, linecolor="#333", linewidth=1.2,
                           tickfont=dict(size=14.5, color="#222")),
                      dict(tickvals=D_TICKS, tickformat=".1f", ticks="outside", ticklen=4, tickcolor="#333",
                           tickangle=-90, showline=True, mirror=True, linecolor="#333", linewidth=1.2,
                           tickfont=dict(size=15, color="#222")))
    grey, red, blue = d_sets[k]
    for pts, col in [(grey, "#d4d4d4"), (red, "#b51d24"), (blue, "#34409a")]:
        fig.add_trace(go.Scatter(x=[p[0] for p in pts], y=[p[1] for p in pts], xaxis=xa, yaxis=ya,
                                 mode="markers", marker=dict(size=3.3, color=col), hoverinfo="skip"))
    ann(D_TITLES[k], d_title[k], 978, 13.5)
    ann(D_PVALS[k], d_p[k][0], d_p[k][1], 16)
    ann("<b>" + D_COUNTS[k][0] + "</b>", d_red[k][0], d_red[k][1], 29, color="#b5121b")
    ann("<b>" + D_COUNTS[k][1] + "</b>", d_blue[k][0], d_blue[k][1], 29, color="#2b3990")
    ann("Reproductive (Distance from RL)", d_ylab[k], 1121, 15.5, angle=-90)
    ann("Non - Reproductive (Distance from RL)", d_xlab[k], 1276, 15)
ann("d)", 22, 979, 15)

layout["annotations"] = annotations
layout["shapes"] = shapes
fig.update_layout(**layout)
# remove the browser's default 8px body margin so the 828x1285 figure fills the window exactly
fig.write_html("out.html", config={"displayModeBar": False, "staticPlot": True},
               post_script="document.body.style.margin='0px';")
